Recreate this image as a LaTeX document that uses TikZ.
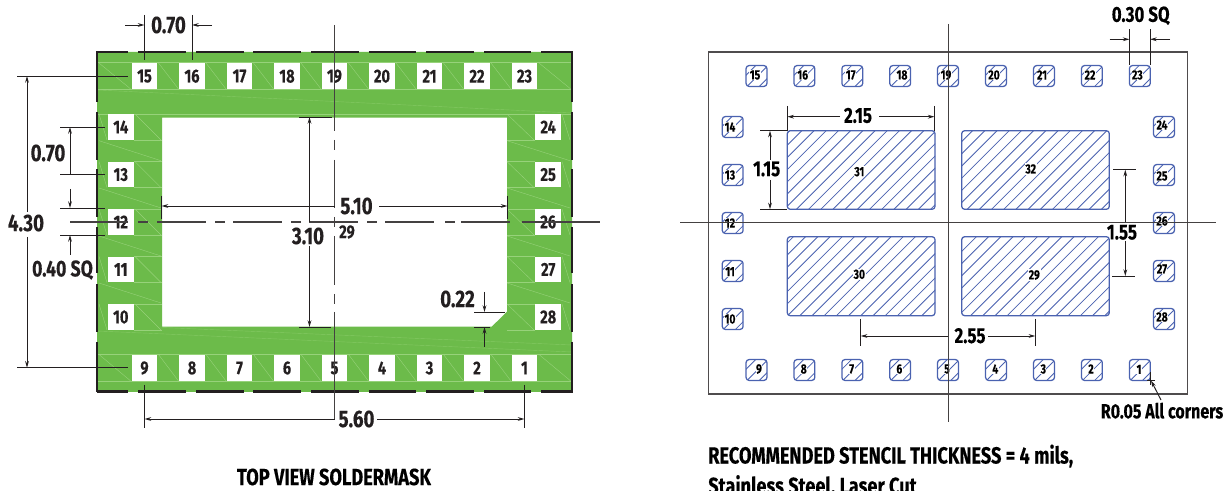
\documentclass[tikz,border=0pt]{standalone}
\usepackage{fontspec}
\setmainfont{Fira Sans}[FakeStretch=0.78,BoldFeatures={FakeBold=0.25}]
\usetikzlibrary{arrows.meta}
\definecolor{maskgreen}{HTML}{6CBB4A}
\definecolor{meshgreen}{HTML}{97D27A}
\definecolor{meshfaint}{HTML}{84C963}
\definecolor{padblue}{HTML}{4A62B0}
\definecolor{inkdark}{HTML}{231F20}
\newcommand\dimfont{\fontsize{18}{18}\selectfont\bfseries}
\newcommand\sdimfont{\fontsize{16.2}{16.2}\selectfont\bfseries}
\newcommand\padfont{\fontsize{14}{14}\selectfont\bfseries}
\newcommand\stenfont{\fontsize{10}{10}\selectfont\bfseries}
\newcommand\headfont{\fontsize{17.5}{17.5}\selectfont\bfseries}
\tikzset{
  dimline/.style={draw=inkdark,line width=0.7pt},
  dimarrow/.style={dimline,-{Stealth[length=5pt,width=2.8pt]}},
  center line/.style={draw=inkdark!85,line width=0.85pt},
  maskedge/.style={draw=inkdark,line width=1.7pt},
  mesh/.style={draw=meshgreen,line width=0.3pt},
  meshlong/.style={draw=meshfaint,line width=0.3pt},
  hatchline/.style={draw=padblue,line width=0.6pt},
  padline/.style={draw=padblue,line width=0.95pt},
  dimtext/.style={inkdark,inner sep=0pt,font=\dimfont},
  sdimtext/.style={black,inner sep=0pt,font=\sdimfont},
  headtext/.style={black,inner sep=0pt,font=\headfont},
  padtext/.style={fill=white,text=inkdark,inner sep=0pt,minimum width=25.6*0.75pt,minimum height=25.6*0.75pt,font=\padfont},
  stentext/.style={fill=white,text=black,inner sep=0.6pt,font=\stenfont},
  stensmall/.style={stentext,inner sep=0.3pt},
}
\newcommand\hatchpad[5]{%
  \begin{scope}
    \clip[rounded corners=2.2pt] (#1,#2) rectangle (#3,#4);
    \pgfmathtruncatemacro\hka{floor((#1+#2-#5)/12.2)}
    \pgfmathtruncatemacro\hkb{ceil((#3+#4-#5)/12.2)}
    \foreach \hk in {\hka,...,\hkb}{
      \pgfmathsetmacro\hc{#5+12.2*\hk}
      \draw[hatchline] ({\hc-#2+10},{#2-10}) -- ({\hc-#4-10},{#4+10});
    }
  \end{scope}
  \draw[padline,rounded corners=2.2pt] (#1,#2) rectangle (#3,#4);
}
\begin{document}
\begin{tikzpicture}[x=0.75pt,y=-0.75pt]
\useasboundingbox (0,0) rectangle (1228,491);
\clip (0,0) rectangle (1228,491);
\fill[white] (0,0) rectangle (1228,491);

% ---------- soldermask ----------
\fill[maskgreen,even odd rule] (97,52) rectangle (572,392)
  (162,117.7) -- (507,117.7) -- (507,311.7) -- (491.7,326.7) -- (162,326.7) -- cycle;
% faint mesh
\foreach \yy in {62.5,89.5,354.5,381}{\draw[mesh] (97,\yy) -- (572,\yy);}
\draw[meshlong] (97,90) -- (572,113); \draw[mesh] (97,114) -- (572,114);
\draw[meshlong] (97,331) -- (572,352); \draw[meshlong] (162,327.5) -- (572,345);
\foreach \xx in {158.5,206,253.5,301,348.5,396,443.5,491}{
  \draw[mesh] (\xx,63) -- ({\xx+20},89);
  \draw[mesh] (\xx,354.5) -- ({\xx+20},381);
}
\draw[mesh] (99,63) -- (130.7,89); \draw[mesh] (539,63) -- (570.7,89);
\draw[mesh] (99,354.5) -- (130.7,381); \draw[mesh] (539,354.5) -- (570.7,381);
\foreach \yy in {127,174.6,222,269.5,317}{
  \draw[mesh] (134,{\yy-13}) -- (162,{\yy-13});
  \draw[mesh] (134,{\yy+13}) -- (162,{\yy+13});
  \draw[mesh] (135,{\yy-13}) -- (161,{\yy+13});
  \draw[mesh] (99,{\yy-13}) -- (107,{\yy+13});
  \draw[mesh] (507,{\yy-13}) -- (535,{\yy-13});
  \draw[mesh] (507,{\yy+13}) -- (535,{\yy+13});
  \draw[mesh] (507,{\yy-13}) -- (534,{\yy+13});
  \draw[mesh] (562,{\yy-13}) -- (570,{\yy+13});
}
\foreach \yy in {140.7,188,236,283}{
  \draw[mesh] (99,\yy) -- (161,{\yy+20});
  \draw[mesh] (507,\yy) -- (570,{\yy+20});
}
% pads
\foreach \n/\x in {15/144.5,16/192,17/239.5,18/287,19/334.5,20/382,21/429.5,22/477,23/524.5}
  \node[padtext] (m\n) at (\x,76.2) {\n};
\foreach \n/\x in {9/144.5,8/192,7/239.5,6/287,5/334.5,4/382,3/429.5,2/477,1/524.5}
  \node[padtext] (m\n) at (\x,368) {\n};
\foreach \n/\y in {14/127,13/174.6,12/222,11/269.5,10/317}
  \node[padtext] (m\n) at (120.8,\y) {\n};
\foreach \n/\y in {24/127,25/174.6,26/222,27/269.5,28/317}
  \node[padtext] (m\n) at (548.2,\y) {\n};
% dashed outline
\foreach \a/\b in {97/128,138/186,196/243.5,253/301,311/358.5,368.5/416,426/474,484/531,541/572.8}{
  \draw[maskedge] (\a,52) -- (\b,52);
  \draw[maskedge] (\a,391.5) -- (\b,391.5);
}
\foreach \a/\b in {51.2/102,112/159.6,169.5/217,227/273,284.5/332,342/392.3}{
  \draw[maskedge] (97,\a) -- (97,\b);
  \draw[maskedge] (572,\a) -- (572,\b);
}
% centre lines
\draw[center line] (70,222) -- (128,222) (138,222) -- (148,222);
\foreach \a in {157,233,309,385,461}{
  \draw[center line] (\a,222) -- ({\a+49},222);
}
\foreach \a in {215,291,367,445}{
  \draw[center line] (\a,222) -- ({\a+10},222);
}
\draw[center line] (522,222) -- (600,222);
\draw[center line] (334.5,25) -- (334.5,131) (334.5,140) -- (334.5,150)
  (334.5,160) -- (334.5,208) (334.5,217) -- (334.5,227) (334.5,236) -- (334.5,285)
  (334.5,294) -- (334.5,304) (334.5,312) -- (334.5,420);
% dimensions, top 0.70
\draw[dimline] (144.5,15) -- (144.5,60) (192,15) -- (192,60);
\draw[dimarrow] (125,25) -- (144.5,25);
\draw[dimarrow] (212,25) -- (192,25);
\node[dimtext] (d070a) at (168.5,25) {0.70};
% 4.30
\draw[dimline] (17,76) -- (128,76) (17,367.7) -- (128,367.7);
\draw[dimarrow] (27,212) -- (27,76);
\draw[dimarrow] (27,237) -- (27,367.7);
\node[dimtext] (d430) at (26,223) {4.30};
% left 0.70
\draw[dimline] (60,127) -- (105,127) (60,174.4) -- (105,174.4);
\draw[dimarrow,{Stealth[length=5pt,width=2.8pt]}-] (70,127) -- (70,174.4);
\node[dimtext] (d070b) at (48,153) {0.70};
% 0.40 SQ
\draw[dimline] (60,208) -- (105,208) (60,235) -- (105,235);
\draw[dimarrow] (70,189) -- (70,208);
\draw[dimarrow] (70,255) -- (70,235);
\node[dimtext,font=\fontsize{17}{17}\selectfont\bfseries] (d040) at (62.5,270) {0.40 SQ};
% 5.10
\draw[dimline] (161.5,196) -- (161.5,219) (507.5,196) -- (507.5,219);
\draw[dimarrow] (334.5,206) -- (161.5,206);
\draw[dimarrow] (379,206) -- (507.5,206);
\node[dimtext] (d510) at (356.5,206) {5.10};
% 3.10
\draw[dimline] (299,117) -- (332,117) (299,327) -- (331,327);
\draw[dimarrow] (309.5,222) -- (309.5,117);
\draw[dimarrow] (309.5,246) -- (309.5,327);
\node[dimtext] (d310) at (308,236) {3.10};
\node[inkdark,inner sep=0pt,font=\padfont] (l29) at (347,232) {29};
% 5.60
\draw[dimline] (144.5,385) -- (144.5,428) (524.5,385) -- (524.5,428);
\draw[dimarrow] (334.5,419) -- (144.5,419);
\draw[dimarrow] (377,419) -- (524.5,419);
\node[dimtext] (d560) at (356.5,419) {5.60};
% 0.22
\draw[dimline] (474,312) -- (505,312) (474,327) -- (490,327);
\draw[dimarrow] (484.5,292) -- (484.5,312);
\draw[dimarrow] (484.5,347) -- (484.5,327);
\node[dimtext] (d022) at (457.5,299) {0.22};
\node[headtext] (title) at (334,477) {TOP VIEW SOLDERMASK};

% ---------- stencil ----------
\draw[draw=inkdark!80,line width=0.9pt] (708.5,52) rectangle (1187.5,394);
\hatchpad{787.3}{130.7}{935}{209.3}{944.7}
\hatchpad{961.7}{130.7}{1109.3}{209.3}{944.7}
\hatchpad{787.3}{236.7}{935}{315.7}{944.7}
\hatchpad{961.7}{236.7}{1109.3}{315.7}{944.7}
\foreach \x/\y in {756.5/76,804.4/76,852.3/76,900.2/76,948/76,996/76,1044/76,1091.9/76,1139.8/76,
  756.5/370,804.4/370,852.3/370,900.2/370,948/370,996/370,1044/370,1091.9/370,1139.8/370,
  732.7/127,732.7/175,732.7/223,732.7/271,732.7/319,
  1164/127,1164/175,1164/223,1164/271,1164/319}{
  \pgfmathsetmacro\pxa{\x-10.4}\pgfmathsetmacro\pya{\y-10.4}
  \pgfmathsetmacro\pxb{\x+10.4}\pgfmathsetmacro\pyb{\y+10.4}
  \pgfmathsetmacro\pph{\x+\y+1}
  \hatchpad{\pxa}{\pya}{\pxb}{\pyb}{\pph}
}
\foreach \n/\x/\y in {15/755/75,16/802.7/75,17/850.7/75,18/902/75,19/946/75,20/994/75,21/1042/75,22/1090/75,23/1137.3/75,
  14/730/127,13/730/175,12/730/223,11/730/271.7,10/730/319,
  24/1162/125,25/1162/176,26/1162/221,27/1162/269,28/1162/317,
  9/759/369,8/803.7/369,7/851.7/369,6/899.3/369,5/947/369,4/995.3/369,3/1043.3/369,2/1091/369,1/1139/369.3}
  \node[stensmall] (s\n) at (\x,\y) {\n};
\foreach \n/\x/\y in {31/859.3/171.7,32/1030.7/169,30/859.3/274.3,29/1034.3/275}
  \node[stentext] (s\n) at (\x,\y) {\n};
% centre lines
\draw[center line] (948.3,24) -- (948.3,422);
\draw[center line] (680,222.5) -- (1216,222.5);
% 2.15
\draw[dimline] (787.3,106) -- (787.3,130.7) (934.5,106) -- (934.5,130.7);
\draw[dimarrow] (840,116.7) -- (787.3,116.7);
\draw[dimarrow] (879,116.7) -- (934.5,116.7);
\node[sdimtext] (d215) at (858,115.5) {2.15};
% 1.15
\draw[dimline] (760,130.7) -- (787,130.7) (760,209.3) -- (787,209.3);
\draw[dimarrow] (770,160) -- (770,130.7);
\draw[dimarrow] (770,180) -- (770,209.3);
\node[sdimtext] (d115) at (766.7,169) {1.15};
% 0.30 SQ
\draw[dimline] (1129.5,29.3) -- (1129.5,65) (1150,29.3) -- (1150,65);
\draw[dimarrow] (1109.7,39.3) -- (1129.5,39.3);
\draw[dimarrow] (1170,39.3) -- (1150,39.3);
\node[sdimtext] (d030) at (1140.7,15.7) {0.30 SQ};
% 1.55
\draw[dimline] (1113,169.7) -- (1136,169.7) (1112.3,276) -- (1135.3,276);
\draw[dimarrow] (1125.3,222) -- (1125.3,169.7);
\draw[dimarrow] (1125.3,241) -- (1125.3,276);
\node[sdimtext] (d155) at (1122,232.3) {1.55};
% 2.55
\draw[dimline] (860.7,319) -- (860.7,346) (1035.3,319) -- (1035.3,346);
\draw[dimarrow] (948.3,336) -- (860.7,336);
\draw[dimarrow] (988,336) -- (1035.3,336);
\node[sdimtext] (d255) at (970,335.7) {2.55};
% R0.05
\draw[dimline,line width=0.5pt] (1147,380) -- (1155,380) (1150,372) -- (1150,385);
\draw[dimarrow] (1161,400) -- (1151,380.5);
\node[sdimtext,font=\fontsize{15.4}{15.4}\selectfont\bfseries] (dr) at (1162,410.7) {R0.05 All corners};
\node[headtext,anchor=base west] (n1) at (708,463.5) {RECOMMENDED STENCIL THICKNESS = 4 mils,};
\node[headtext,anchor=base west] (n2) at (708,494) {Stainless Steel, Laser Cut};
\end{tikzpicture}
\end{document}
